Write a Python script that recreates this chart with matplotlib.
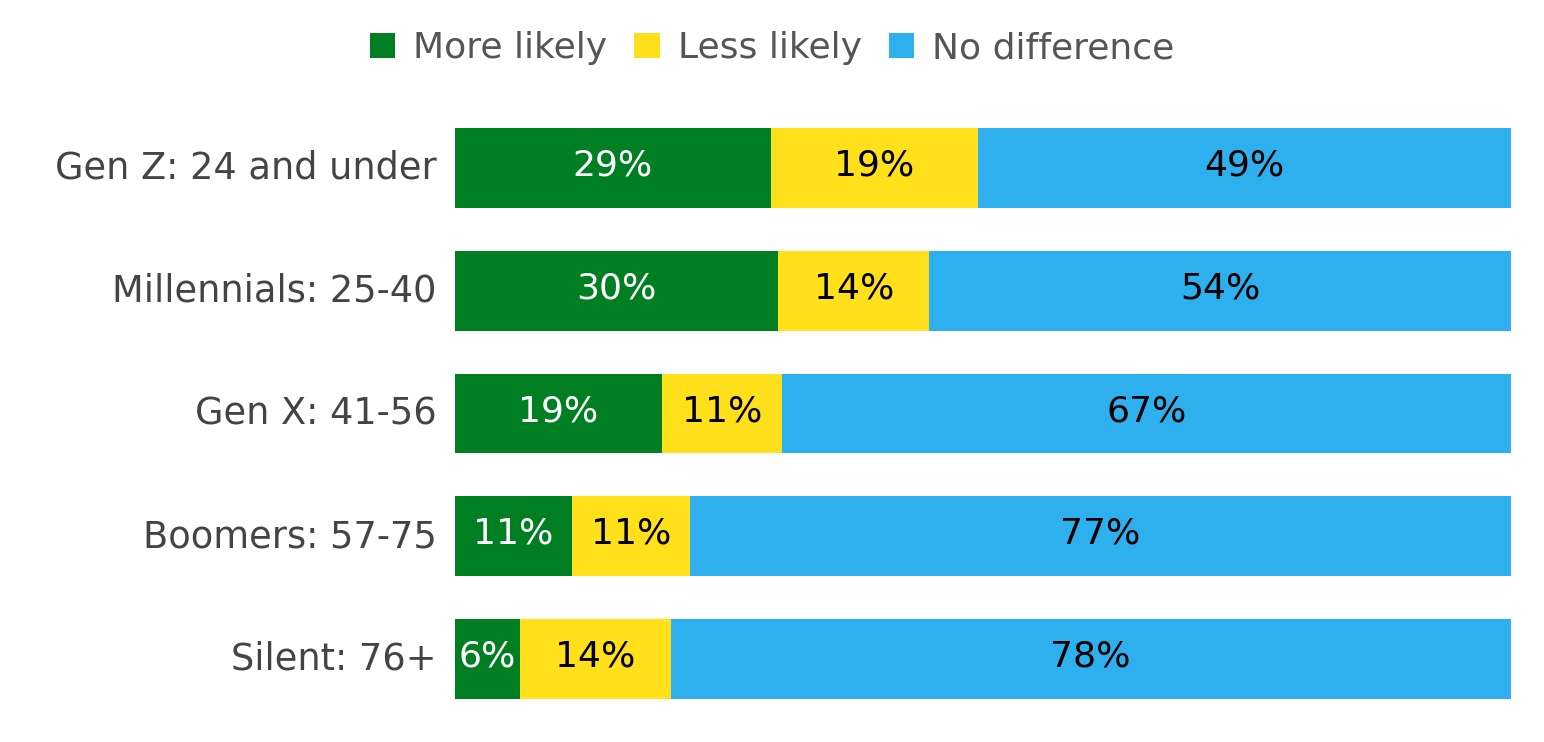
import numpy as np
from matplotlib import pyplot as plt

groups = ['Gen Z: 24 and under', 'Millennials: 25-40', 'Gen X: 41-56',
          'Boomers: 57-75', 'Silent: 76+']
more_likely = [29, 30, 19, 11, 6]
less_likely = [19, 14, 11, 11, 14]
no_difference = [49, 54, 67, 77, 78]

series = ['More likely', 'Less likely', 'No difference']
colors = ['#007F22', '#FFE01B', '#2EB0EF']
text_colors = ['white', 'black', 'black']

plt.rcParams['font.family'] = 'DejaVu Sans'

data = np.array([more_likely, less_likely, no_difference], dtype=float)
shares = data / data.sum(axis=0)   # each bar fills the full width
ypos = np.arange(len(groups))

fig = plt.figure(figsize=(15.44, 7.42), dpi=100)
ax = fig.add_axes([0.2947, 0.0291, 0.6839, 0.8272])

left = np.zeros(len(groups))
for i, name in enumerate(series):
    ax.barh(ypos, shares[i], left=left, height=0.65, color=colors[i],
            label=name, linewidth=0)
    for y, x0, w, v in zip(ypos, left, shares[i], data[i]):
        ax.text(x0 + w / 2, y - 0.02, f'{v:.0f}%', ha='center', va='center',
                fontsize=26, color=text_colors[i])
    left += shares[i]

ax.set_xlim(0, 1)
ax.set_ylim(len(groups) - 0.5, -0.5)
ax.set_yticks(ypos - 0.03)
ax.set_yticklabels(groups, fontsize=26.5, color='#444444')
ax.tick_params(axis='y', length=0, pad=13)
ax.set_xticks([])
for s in ax.spines.values():
    s.set_visible(False)

fig.legend(loc='center', bbox_to_anchor=(0.5, 0.935), ncol=3, frameon=False,
           fontsize=26, labelcolor='#555555', handlelength=0.7,
           handleheight=0.7, handletextpad=0.5, columnspacing=0.75)

fig.savefig('out.png', dpi=100)
